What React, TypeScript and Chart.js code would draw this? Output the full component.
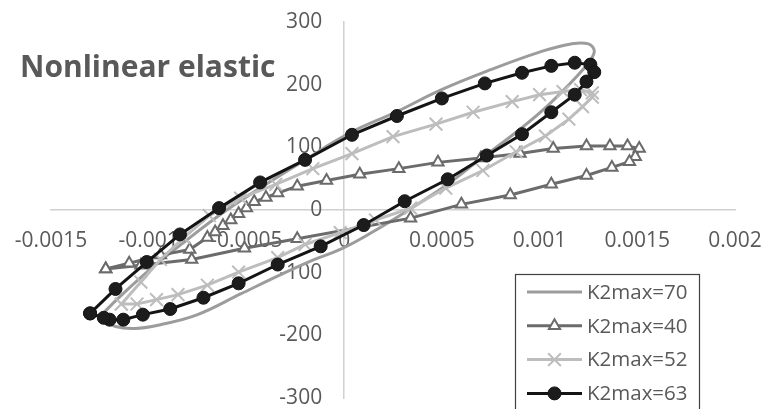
import React, { useEffect, useRef } from "react";
import { Chart, registerables } from "chart.js";

Chart.register(...registerables);

const TITLE = "Nonlinear elastic";
const xTicks = [-0.0015, -0.001, -0.0005, 0, 0.0005, 0.001, 0.0015, 0.002];
const yTicks = [-300, -200, -100, 0, 100, 200, 300];

// K2max=70 (smooth line, no markers)
const k70X = [-0.00125, -0.00115, -0.00099, -0.00081, -0.00061, -0.0004, -0.0002, 0.00003, 0.00027, 0.00049, 0.00075, 0.001, 0.00116, 0.00125, 0.00128,
  0.00123, 0.00105, 0.00088, 0.0007, 0.00052, 0.00032, 0.00013, -0.00002, -0.00016, -0.00033, -0.00053, -0.00075, -0.00094, -0.00107, -0.00117, -0.00123, -0.00125];
const k70Y = [-170, -139, -94, -49, -2, 41, 80, 123, 157, 191, 224, 252, 265, 265, 252,
  227, 169, 124, 82, 39, -2, -38, -63, -80, -104, -134, -167, -183, -189, -186, -176, -170];

// K2max=40 (triangles)
const k40X = [-0.00122, -0.0011, -0.00094, -0.00079, -0.0007, -0.00066, -0.00062, -0.00058, -0.00054, -0.0005, -0.00046, -0.0004, -0.00034, -0.00024, -0.00009, 0.00008, 0.00028, 0.00048, 0.0007, 0.0009, 0.00107, 0.00124, 0.00136, 0.00145, 0.00151,
  0.00149, 0.00146, 0.00137, 0.00124, 0.00106, 0.00085, 0.0006, 0.00034, -0.00024, -0.00051, -0.00078, -0.00104, -0.00122];
const k40Y = [-94, -85, -72, -63, -44, -35, -25, -16, -6, 3, 13, 20, 27, 38, 47, 57, 66, 76, 83, 90, 98, 102, 102, 102, 98,
  85, 77, 68, 55, 41, 24, 9, -13, -46, -61, -79, -88, -94];

// K2max=52 (crosses)
const k52X = [-0.00114, -0.00104, -0.00094, -0.00082, -0.00069, -0.00053, -0.00035, -0.00016, 0.00004, 0.00025, 0.00047, 0.00066, 0.00086, 0.001, 0.00112, 0.00121, 0.00127,
  0.00127, 0.00122, 0.00115, 0.00103, 0.00088, 0.00071, 0.00052, 0.00034, 0.00016, -0.00002, -0.0002, -0.00034, -0.00054, -0.0007, -0.00085, -0.00096, -0.00106, -0.00114];
const k52Y = [-150, -115, -79, -44, -9, 19, 41, 66, 90, 117, 137, 156, 173, 184, 189, 192, 187,
  180, 165, 145, 118, 93, 63, 35, 3, -16, -36, -55, -76, -99, -120, -135, -143, -150, -150];

// K2max=63 (filled circles)
const k63X = [-0.0013, -0.00117, -0.00101, -0.00084, -0.00064, -0.00043, -0.0002, 0.00004, 0.00027, 0.0005, 0.00072, 0.00091, 0.00106, 0.00118, 0.00126, 0.00128, 0.00124,
  0.00118, 0.00106, 0.00091, 0.00073, 0.00053, 0.00031, 0.0001, -0.00012, -0.00034, -0.00054, -0.00072, -0.00089, -0.00103, -0.00113, -0.0012, -0.00123, -0.0013];
const k63Y = [-165, -126, -83, -39, 3, 44, 80, 120, 150, 178, 202, 219, 230, 235, 232, 220, 205,
  184, 156, 121, 87, 49, 14, -24, -58, -87, -117, -140, -158, -167, -175, -175, -172, -165];

const toPts = (xs: number[], ys: number[]) => xs.map((x, i) => ({ x, y: ys[i] }));

const TEXT = "#595959";
const FONT = "'Open Sans', Lato, sans-serif";

function drawMarker(ctx: CanvasRenderingContext2D, style: string, x: number, y: number, r: number, fill: string, stroke: string, bw: number) {
  if (!style || r <= 0) return;
  ctx.save();
  ctx.lineWidth = bw;
  ctx.strokeStyle = stroke;
  ctx.fillStyle = fill;
  ctx.beginPath();
  if (style === "circle") {
    ctx.arc(x, y, r, 0, Math.PI * 2);
    ctx.fill();
    ctx.stroke();
  } else if (style === "triangle") {
    let a = 0;
    ctx.moveTo(x + Math.sin(a) * r, y - Math.cos(a) * r);
    a += (2 * Math.PI) / 3;
    ctx.lineTo(x + Math.sin(a) * r, y - Math.cos(a) * r);
    a += (2 * Math.PI) / 3;
    ctx.lineTo(x + Math.sin(a) * r, y - Math.cos(a) * r);
    ctx.closePath();
    ctx.fill();
    ctx.stroke();
  } else if (style === "crossRot") {
    const d = r * Math.SQRT1_2;
    ctx.moveTo(x - d, y - d);
    ctx.lineTo(x + d, y + d);
    ctx.moveTo(x - d, y + d);
    ctx.lineTo(x + d, y - d);
    ctx.stroke();
  }
  ctx.restore();
}

const labelsPlugin = {
  id: "axisLabels",
  beforeDatasetsDraw(chart: any) {
    const { ctx, scales } = chart;
    const xs = scales.x;
    const ys = scales.y;
    const x0 = xs.getPixelForValue(0);
    const y0 = ys.getPixelForValue(0);
    ctx.save();
    ctx.fillStyle = TEXT;
    ctx.font = `21px ${FONT}`;
    ctx.textBaseline = "middle";
    ctx.textAlign = "right";
    yTicks.forEach((v) => ctx.fillText(String(v), x0 - 22, ys.getPixelForValue(v)));
    ctx.textAlign = "center";
    xTicks.forEach((v) => ctx.fillText(String(v), xs.getPixelForValue(v), y0 + 31));
    ctx.restore();
  },
};

const overlayPlugin = {
  id: "overlay",
  afterDraw(chart: any) {
    const { ctx, chartArea } = chart;
    ctx.save();
    // title
    ctx.fillStyle = TEXT;
    ctx.font = `bold 30px ${FONT}`;
    ctx.textAlign = "left";
    ctx.textBaseline = "alphabetic";
    ctx.fillText(TITLE, 20, 77);
    // legend
    const bx = chartArea.right - 220;
    const by = chartArea.top + 252;
    const bw = 184;
    const bh = 160;
    ctx.fillStyle = "#ffffff";
    ctx.fillRect(bx, by, bw, bh);
    ctx.strokeStyle = "#404040";
    ctx.lineWidth = 1.2;
    ctx.strokeRect(bx + 0.5, by + 0.5, bw, bh);
    ctx.font = `20.5px ${FONT}`;
    ctx.textBaseline = "middle";
    chart.data.datasets.forEach((ds: any, i: number) => {
      const cy = by + 18 + i * 33.8;
      const lx1 = bx + 12;
      const lx2 = bx + 67;
      ctx.strokeStyle = ds.borderColor;
      ctx.lineWidth = ds.borderWidth;
      ctx.beginPath();
      ctx.moveTo(lx1, cy);
      ctx.lineTo(lx2, cy);
      ctx.stroke();
      drawMarker(ctx, ds.pointRadius > 0 ? ds.pointStyle : "", (lx1 + lx2) / 2, cy, ds.pointRadius, ds.pointBackgroundColor, ds.pointBorderColor, ds.pointBorderWidth);
      ctx.fillStyle = TEXT;
      ctx.fillText(ds.label, lx2 + 5, cy + 1);
    });
    ctx.restore();
  },
};

export default function App() {
  const ref = useRef<HTMLCanvasElement>(null);
  useEffect(() => {
    document.body.style.margin = "0";
    const canvas = ref.current!;
    const chart = new Chart(canvas, {
      type: "scatter",
      data: {
        datasets: [
          {
            label: "K2max=70",
            data: toPts(k70X, k70Y),
            showLine: true,
            borderColor: "#9c9c9c",
            borderWidth: 3,
            tension: 0.4,
            pointRadius: 0,
            pointStyle: "circle",
            pointBackgroundColor: "#9c9c9c",
            pointBorderColor: "#9c9c9c",
            pointBorderWidth: 0,
            order: 3,
          },
          {
            label: "K2max=40",
            data: toPts(k40X, k40Y),
            showLine: true,
            borderColor: "#6b6b6b",
            borderWidth: 3,
            tension: 0,
            pointRadius: 6.5,
            pointStyle: "triangle",
            pointBackgroundColor: "#ffffff",
            pointBorderColor: "#6b6b6b",
            pointBorderWidth: 2,
            order: 2,
          },
          {
            label: "K2max=52",
            data: toPts(k52X, k52Y),
            showLine: true,
            borderColor: "#bdbdbd",
            borderWidth: 3,
            tension: 0,
            pointRadius: 9,
            pointStyle: "crossRot",
            pointBackgroundColor: "#bdbdbd",
            pointBorderColor: "#bdbdbd",
            pointBorderWidth: 2,
            order: 1,
          },
          {
            label: "K2max=63",
            data: toPts(k63X, k63Y),
            showLine: true,
            borderColor: "#141414",
            borderWidth: 3,
            tension: 0,
            pointRadius: 6.5,
            pointStyle: "circle",
            pointBackgroundColor: "#1c1c1c",
            pointBorderColor: "#141414",
            pointBorderWidth: 1,
            order: 0,
          },
        ],
      },
      options: {
        responsive: false,
        animation: false,
        devicePixelRatio: 1,
        layout: { padding: { left: 51, right: 28, top: 22, bottom: 7 } },
        plugins: { legend: { display: false }, tooltip: { enabled: false }, title: { display: false } },
        scales: {
          x: {
            type: "linear",
            min: -0.0015,
            max: 0.002,
            position: { y: 0 } as any,
            grid: { display: false, drawTicks: false },
            border: { display: true, color: "#d0d0d0", width: 1.5 },
            ticks: { display: false },
            afterFit: (s: any) => { s.height = 0; },
          },
          y: {
            type: "linear",
            min: -300,
            max: 300,
            position: { x: 0 } as any,
            grid: { display: false, drawTicks: false },
            border: { display: true, color: "#d0d0d0", width: 1.5 },
            ticks: { display: false },
            afterFit: (s: any) => { s.width = 0; },
          },
        },
      },
      plugins: [labelsPlugin, overlayPlugin],
    });
    return () => chart.destroy();
  }, []);
  return <canvas ref={ref} width={763} height={409} style={{ display: "block", width: 763, height: 409 }} />;
}
